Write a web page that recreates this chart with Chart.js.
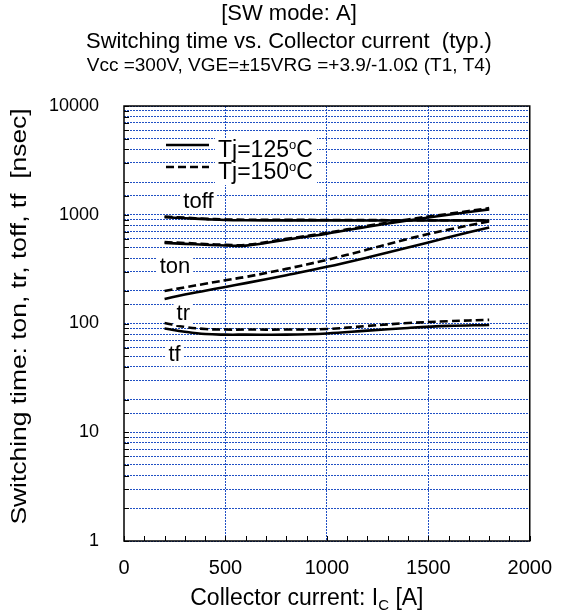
<!DOCTYPE html>
<html>
<head>
<meta charset="utf-8">
<script src="https://cdn.jsdelivr.net/npm/chart.js@4/dist/chart.umd.min.js"></script>
<style>
  html, body { margin: 0; padding: 0; background: #fff; }
</style>
</head>
<body>
<canvas id="chart" width="567" height="614"></canvas>
<script>
// collector current [A]
const current = [200, 300, 400, 500, 600, 800, 1000, 1200, 1400, 1600, 1800];

// switching times [nsec], Tj=125C (solid) and Tj=150C (dashed)
const toff125 = [950, 930, 912, 895, 890, 888, 888, 886, 885, 885, 885];
const toff150 = [965, 940, 920, 905, 900, 898, 895, 893, 890, 890, 890];
const tf125 = [550, 540, 530, 522, 520, 590, 670, 775, 885, 1000, 1120];
const tf150 = [560, 550, 538, 530, 528, 600, 682, 790, 905, 1020, 1150];
const ton125 = [168, 185, 200, 217, 235, 278, 332, 405, 500, 620, 765];
const ton150 = [199, 215, 232, 250, 268, 318, 385, 478, 600, 730, 870];
const tr125 = [90, 84, 80, 79, 79, 79, 81, 86, 91, 95, 97];
const tr150 = [101, 93, 89, 88, 88, 88, 89, 95, 101, 105, 108];

const yTickLabels = [1, 10, 100, 1000, 10000];
const xTickLabels = [0, 500, 1000, 1500, 2000];

const curveNames = ["toff", "ton", "tr", "tf"];
const curveNameAt = [[367, 1320], [251, 331], [292, 122], [249, 51]];
const legendNames = ["Tj=125", "Tj=150"];

const FONT = "'Liberation Sans', Arial, sans-serif";
const GRID = "#2050c4";

function pts(ys) {
  return ys.map((y, i) => ({ x: current[i], y: y }));
}

function line(label, ys, dashed) {
  return {
    label: label,
    data: pts(ys),
    borderColor: "#000",
    borderWidth: 2.6,
    borderDash: dashed ? [8, 4] : [],
    pointRadius: 0,
    tension: 0.4,
    fill: false
  };
}

const extras = {
  id: "extras",
  afterDatasetsDraw(chart) {
    const { ctx, chartArea: a, scales: { x, y } } = chart;
    ctx.save();

    // curve names with white background
    ctx.font = "22px " + FONT;
    ctx.textAlign = "center";
    ctx.textBaseline = "middle";
    curveNames.forEach((name, i) => {
      const px = x.getPixelForValue(curveNameAt[i][0]);
      const py = y.getPixelForValue(curveNameAt[i][1]);
      const w = ctx.measureText(name).width;
      ctx.fillStyle = "#fff";
      ctx.fillRect(px - w / 2 - 3, py - 11, w + 6, 22);
      ctx.fillStyle = "#000";
      ctx.fillText(name, px, py);
    });

    // legend: white box behind the texts, then samples and texts
    const tx = a.left + 94;
    ctx.fillStyle = "#fff";
    ctx.fillRect(tx - 3, a.top + 32, 102, 47);
    legendNames.forEach((name, i) => {
      const ly = a.top + 39 + i * 22;
      ctx.strokeStyle = "#000";
      ctx.lineWidth = 2.6;
      ctx.setLineDash(i ? [8, 4] : []);
      ctx.beginPath();
      ctx.moveTo(a.left + 42, ly);
      ctx.lineTo(a.left + 85, ly);
      ctx.stroke();
      ctx.setLineDash([]);
      ctx.textAlign = "left";
      const ty = ly + 6;
      ctx.fillStyle = "#000";
      ctx.font = "23px " + FONT;
      const w1 = ctx.measureText(name).width;
      ctx.fillText(name, tx, ty);
      ctx.font = "13px " + FONT;
      const w2 = ctx.measureText("o").width;
      ctx.fillText("o", tx + w1, ty - 6);
      ctx.font = "23px " + FONT;
      ctx.fillText("C", tx + w1 + w2, ty);
    });

    // inward tick marks
    ctx.lineWidth = 1;
    ctx.strokeStyle = "#000";
    ctx.beginPath();
    y.ticks.forEach(t => {
      const py = Math.round(y.getPixelForValue(t.value)) + 0.5;
      ctx.moveTo(a.left, py);
      ctx.lineTo(a.left + 5, py);
    });
    x.ticks.forEach(t => {
      const px = Math.round(x.getPixelForValue(t.value)) + 0.5;
      ctx.moveTo(px, a.bottom);
      ctx.lineTo(px, a.bottom - 5);
    });
    ctx.stroke();

    // frame
    ctx.lineWidth = 1.5;
    ctx.strokeRect(a.left, a.top, a.right - a.left, a.bottom - a.top);

    // x axis title with subscript
    const cx = (a.left + a.right) / 2 - 20;
    const by = a.bottom + 64;
    ctx.textBaseline = "alphabetic";
    ctx.textAlign = "left";
    ctx.font = "23px " + FONT;
    const p1 = "Collector current: I", p3 = " [A]";
    const m1 = ctx.measureText(p1).width, m3 = ctx.measureText(p3).width;
    ctx.font = "15px " + FONT;
    const m2 = ctx.measureText("C").width;
    const sx = cx - (m1 + m2 + m3) / 2;
    ctx.font = "23px " + FONT;
    ctx.fillText(p1, sx, by);
    ctx.font = "15px " + FONT;
    ctx.fillText("C", sx + m1, by + 5);
    ctx.font = "23px " + FONT;
    ctx.fillText(p3, sx + m1 + m2, by);

    // y axis title, rotated and a little stretched like the original
    ctx.translate(20, (a.top + a.bottom) / 2 - 7);
    ctx.rotate(-Math.PI / 2);
    ctx.scale(1.2, 1);
    ctx.textAlign = "center";
    ctx.textBaseline = "middle";
    ctx.font = "22px " + FONT;
    ctx.fillText("Switching time: ton, tr, toff, tf  [nsec]", 0, 0);
    ctx.restore();
  }
};

Chart.defaults.font.family = FONT;
Chart.defaults.color = "#000";

new Chart(document.getElementById("chart"), {
  type: "line",
  data: {
    datasets: [
      line("toff Tj=125", toff125, false),
      line("toff Tj=150", toff150, true),
      line("tf Tj=125", tf125, false),
      line("tf Tj=150", tf150, true),
      line("ton Tj=125", ton125, false),
      line("ton Tj=150", ton150, true),
      line("tr Tj=125", tr125, false),
      line("tr Tj=150", tr150, true)
    ]
  },
  options: {
    responsive: false,
    animation: false,
    layout: { padding: { left: 32, right: 21, top: 0, bottom: 0 } },
    plugins: {
      legend: { display: false },
      tooltip: { enabled: false },
      title: {
        display: true,
        text: ["[SW mode: A]", "Switching time vs. Collector current  (typ.)"],
        font: { size: 22, weight: "normal", lineHeight: 28 / 22 },
        padding: { top: 0, bottom: 0 }
      },
      subtitle: {
        display: true,
        text: "Vcc =300V, VGE=\u00b115VRG =+3.9/-1.0\u2126 (T1, T4)",
        font: { size: 19, lineHeight: 20 / 19 },
        color: "#000",
        padding: { top: 0, bottom: 30 }
      }
    },
    scales: {
      x: {
        type: "linear",
        min: 0,
        max: 2000,
        afterFit: s => { s.height = 73; },
        ticks: {
          stepSize: 100,
          autoSkip: false,
          maxRotation: 0,
          padding: 15,
          font: { size: 20 },
          callback: v => xTickLabels.includes(v) ? String(v) : ""
        },
        grid: {
          drawTicks: false,
          lineWidth: 1,
          color: c => (c.tick && c.tick.value % 500 === 0 && c.tick.value > 0 && c.tick.value < 2000) ? GRID : "rgba(0,0,0,0)"
        },
        border: { display: false, dash: [2, 1] }
      },
      y: {
        type: "logarithmic",
        min: 1,
        max: 10000,
        afterFit: s => { s.width = 92; },
        ticks: {
          autoSkip: false,
          padding: 25,
          font: { size: 18 },
          callback: v => yTickLabels.includes(v) ? String(v) : ""
        },
        grid: { drawTicks: false, lineWidth: 1, color: GRID },
        border: { display: false, dash: [2, 1] }
      }
    }
  },
  plugins: [extras]
});
</script>
</body>
</html>
